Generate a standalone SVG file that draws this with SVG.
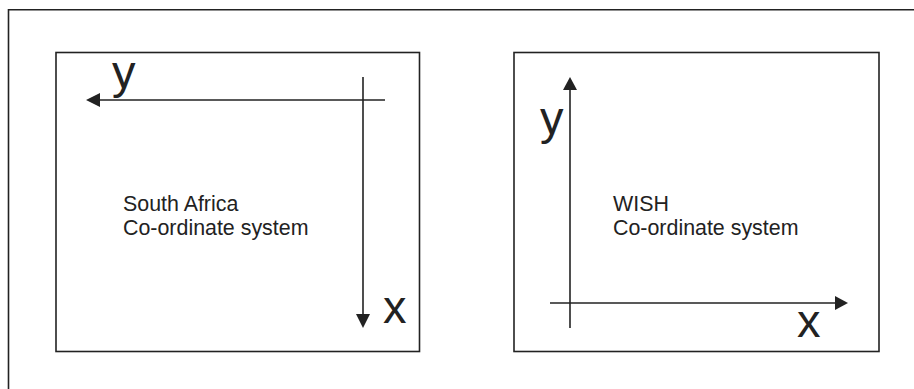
<svg xmlns="http://www.w3.org/2000/svg" width="914" height="389" viewBox="0 0 914 389">
<style>
.frame{fill:none;stroke:#222;stroke-width:1.6}
.ax{stroke:#222;stroke-width:1.6;fill:none}
.head{fill:#222}
.lbl{font-family:"Liberation Sans",Arial,sans-serif;font-size:21.4px;fill:#222}
.big{font-family:"Liberation Sans",Arial,sans-serif;font-size:47px;fill:#222}
</style>
<rect width="914" height="389" fill="#fff"/>
<g id="outer-frame">
<path class="frame" d="M8.5,400 V9.8 H920"/>
</g>
<g id="south-africa">
<rect class="frame" x="56" y="52.5" width="363.5" height="299"/>
<text class="big" x="112" y="88">y</text>
<text class="big" x="383" y="323">x</text>
<text class="lbl" x="123" y="211">South Africa</text>
<text class="lbl" x="123" y="235">Co-ordinate system</text>
</g>
<g id="wish">
<rect class="frame" x="514" y="52.5" width="365" height="299"/>
<text class="big" x="540" y="134">y</text>
<text class="big" x="797" y="337">x</text>
<text class="lbl" x="613" y="211">WISH</text>
<text class="lbl" x="613" y="235">Co-ordinate system</text>
</g>
<g id="connectors">
<line class="ax" x1="385" y1="100" x2="98" y2="100"/>
<polygon class="head" points="86,100 100,93 100,107"/>
<line class="ax" x1="363" y1="77" x2="363" y2="316"/>
<polygon class="head" points="363,328 356,314 370,314"/>
<line class="ax" x1="570" y1="328" x2="570" y2="88"/>
<polygon class="head" points="570,77 563,90 577,90"/>
<line class="ax" x1="550" y1="303" x2="836" y2="303"/>
<polygon class="head" points="848,303 835,296 835,310"/>
</g>
</svg>
